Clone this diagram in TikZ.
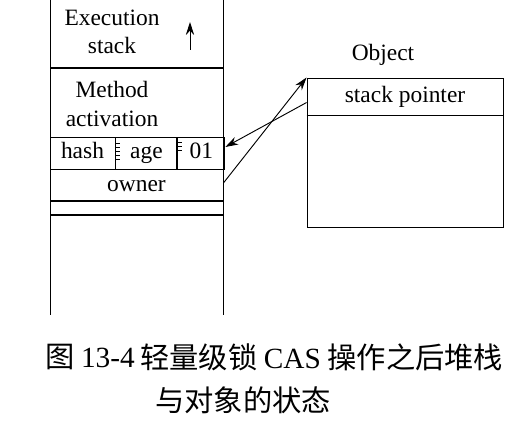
\documentclass[tikz,border=0pt]{standalone}
\usepackage{fontspec}
\setmainfont{Liberation Serif}
\newfontfamily\cjkfont{Noto Sans CJK SC}
\usetikzlibrary{positioning,arrows.meta}

\tikzset{
  cell/.style={draw, thick, inner sep=0pt, minimum height=0.96cm, text height=2.2ex, text depth=0pt},
  label/.style={align=center, font=\fontsize{20}{24.5}\selectfont},
  caption/.style={anchor=west, inner sep=0pt, font=\fontsize{25}{30}\selectfont\cjkfont}
}

\begin{document}
\begin{tikzpicture}[x=0.03cm, y=-0.03cm, >={Stealth[length=11pt, width=7pt]}]
\useasboundingbox (0,0) rectangle (531,424);

% stack walls and frames
\draw[thick] (50,0) -- (50,315);
\draw[thick] (223,0) -- (223,315);
\draw[very thick] (50,68) -- (223,68);
\draw[thick] (50,137) -- (223,137);
\draw[very thick] (50,201) -- (223,201);
\draw[very thick] (50,215) -- (223,215);

\node[label] (exec) at (112,32) {Execution\\stack};
\draw[->, thick] (190,50) -- (190,22);
\node[label] (method) at (112,104) {Method\\activation};

% mark word in the lock record
\node[cell, minimum width=1.95cm, label] (hash) at (82.5,153) {hash};
\node[cell, minimum width=1.83cm, label, right=0pt of hash] (age) {age};
\node[cell, minimum width=1.41cm, label, right=0pt of age] (flags) {01};
\node[cell, minimum width=5.19cm, label, anchor=north west] (owner) at (hash.south west) {owner};
\foreach \y in {143,147,151,155,159}
  \draw (age.west |- 0,\y) -- ++(5,0);
\foreach \y in {142,146,150}
  \draw (flags.west |- 0,\y) -- ++(5,0);

% object header
\node[label] (objname) at (383,55) {Object};
\node[draw, thick, minimum width=5.88cm, minimum height=4.47cm, inner sep=0pt] (obj) at (405,152.5) {};
\draw[thick] ([yshift=-1.14cm]obj.north west) -- ([yshift=-1.14cm]obj.north east);
\node[label] (sp) at (405,97) {stack pointer};

\draw[->, thick] ([yshift=-0.75cm]obj.north west) -- ([yshift=0.18cm]flags.east);
\draw[->, thick] ([yshift=0.09cm]owner.east) -- (obj.north west);

% caption
\node[caption] (fignum) at (45,357) {图 {\rmfamily 13-4}};
\node[caption] (cap1) at (140,357) {轻量级锁 {\rmfamily CAS} 操作之后堆栈};
\node[caption] (cap2) at (155,400) {与对象的状态};

\end{tikzpicture}
\end{document}
